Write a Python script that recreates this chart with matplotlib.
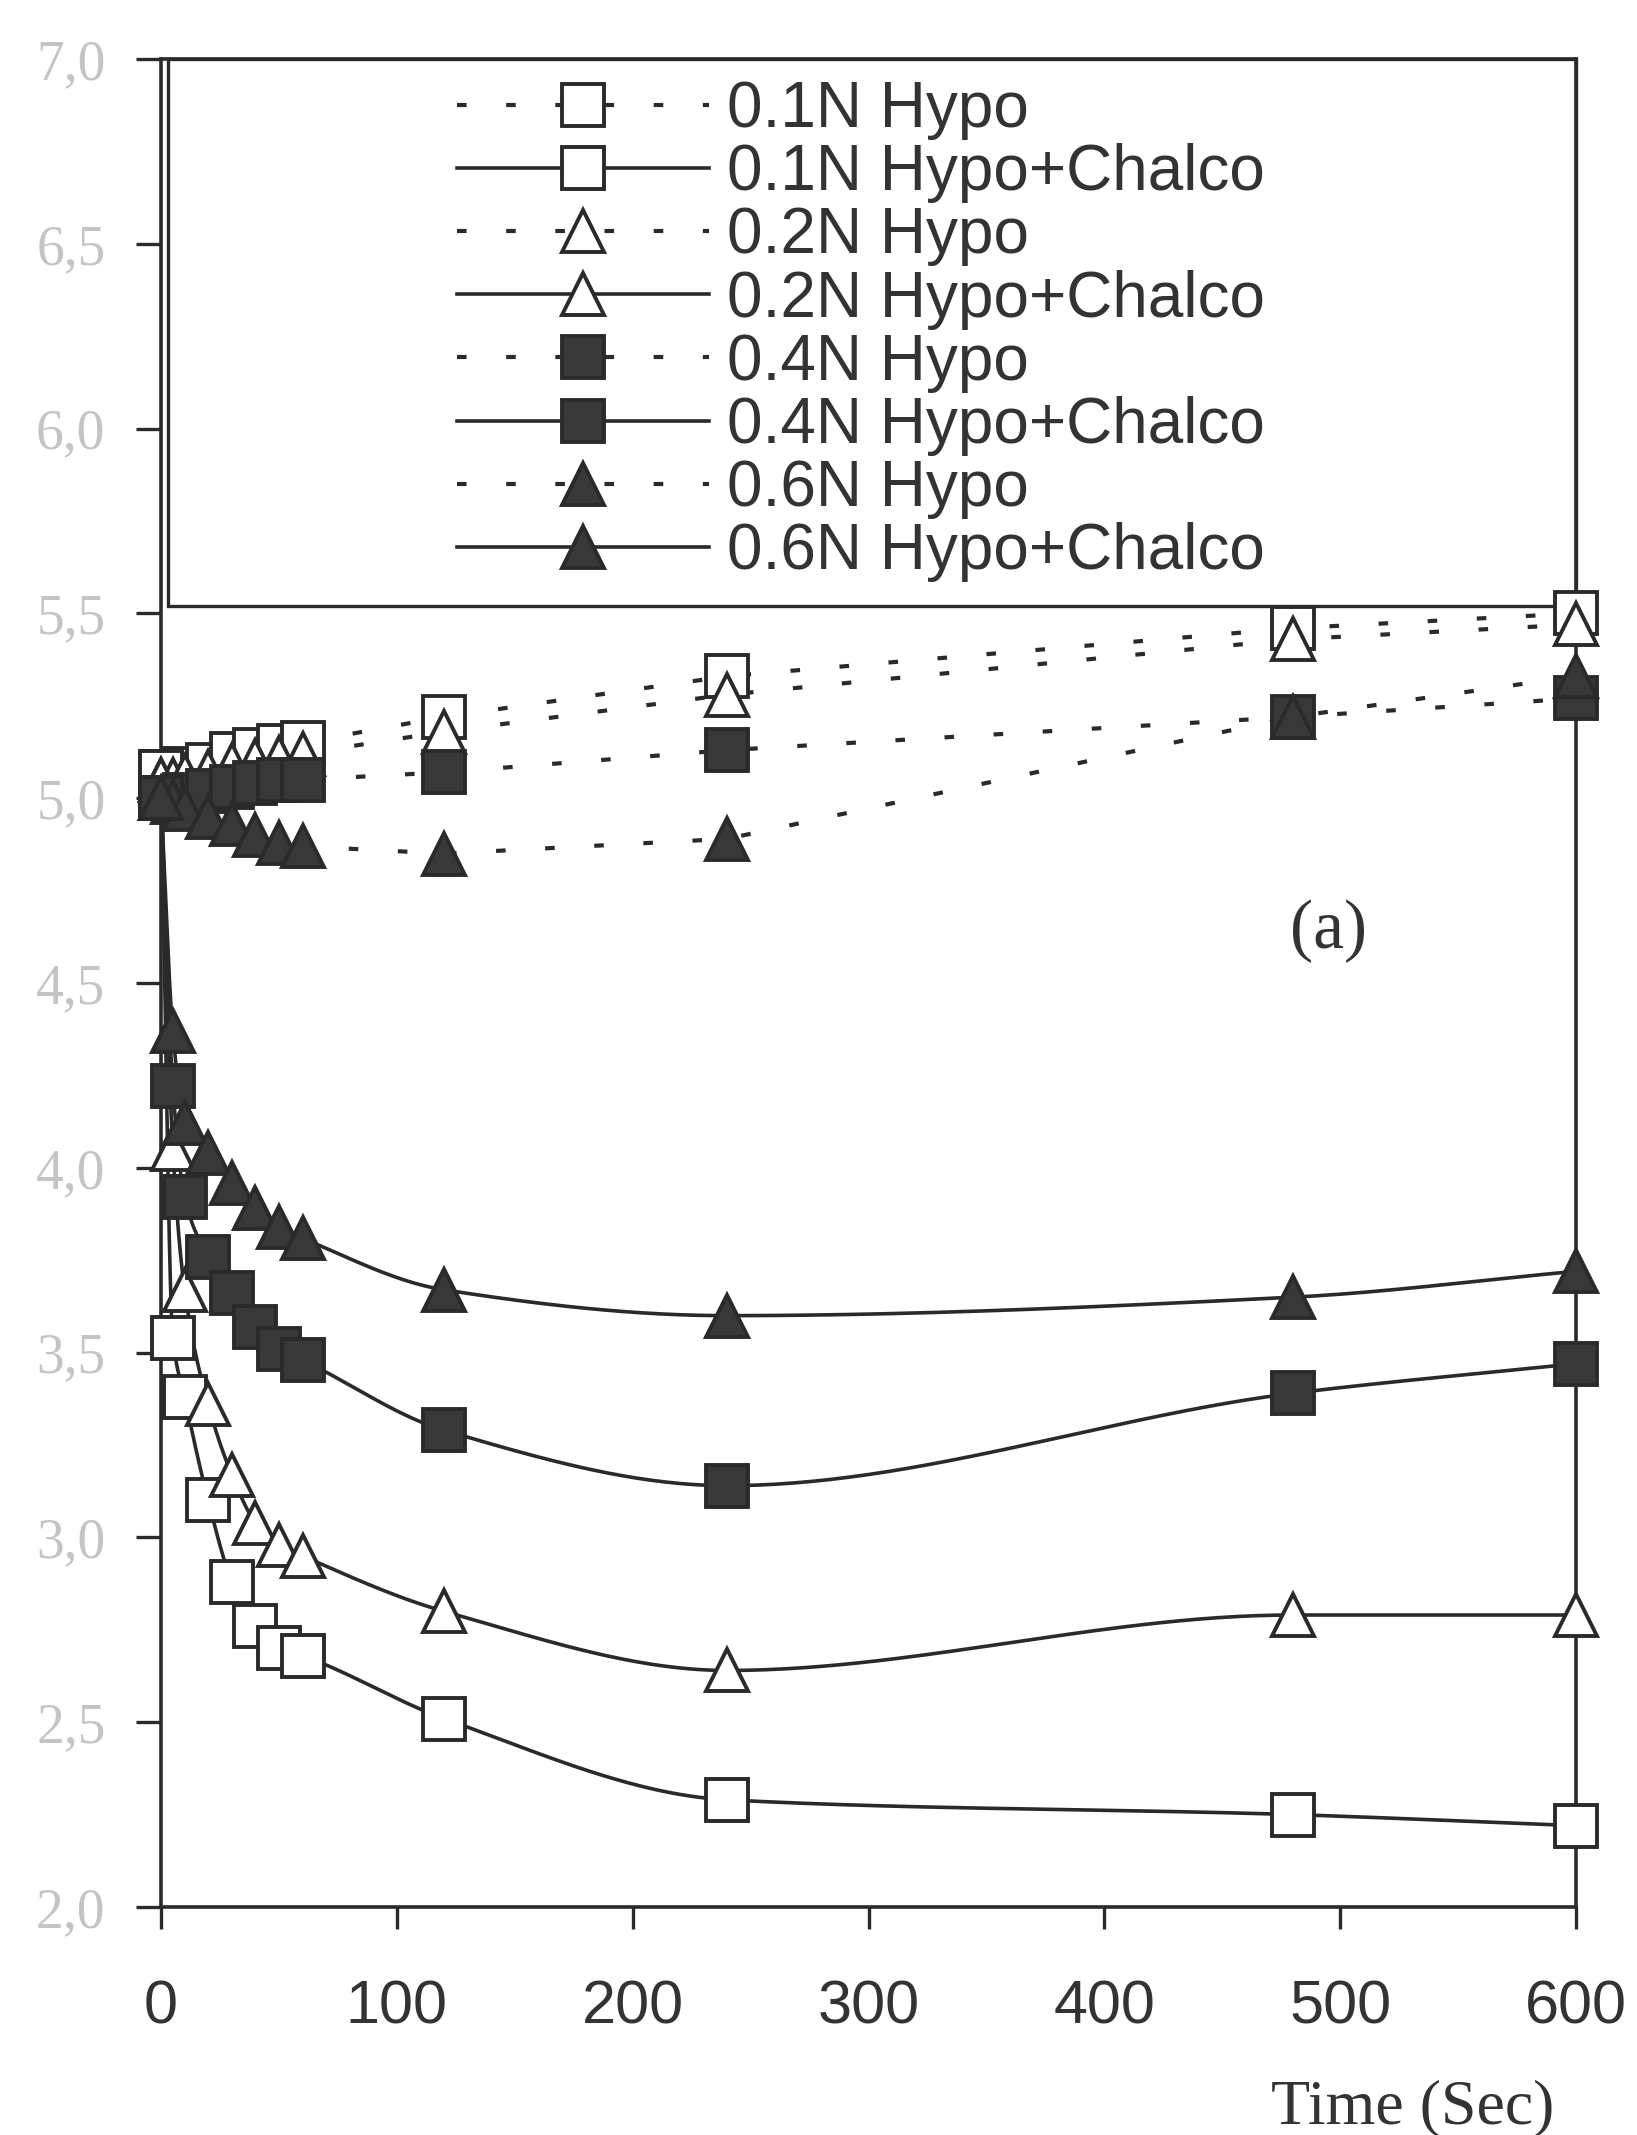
import numpy as np
import matplotlib
matplotlib.use("Agg")
import matplotlib.pyplot as plt
from matplotlib.patches import Rectangle

# ---------------- data ----------------
time_s = [0, 5, 10, 20, 30, 40, 50, 60, 120, 240, 480, 600]

hypo_01 = [5.07, 5.07, 5.08, 5.09, 5.12, 5.13, 5.14, 5.15, 5.22, 5.33, 5.46, 5.50]
chalco_01 = [5.07, 3.54, 3.38, 3.10, 2.88, 2.76, 2.70, 2.68, 2.51, 2.29, 2.25, 2.22]
hypo_02 = [5.05, 5.05, 5.06, 5.07, 5.09, 5.10, 5.11, 5.12, 5.18, 5.28, 5.43, 5.47]
chalco_02 = [5.05, 4.05, 3.67, 3.36, 3.17, 3.04, 2.98, 2.95, 2.80, 2.64, 2.79, 2.79]
hypo_04 = [5.00, 5.00, 5.01, 5.02, 5.03, 5.04, 5.05, 5.05, 5.07, 5.13, 5.22, 5.27]
chalco_04 = [5.00, 4.22, 3.92, 3.76, 3.66, 3.57, 3.51, 3.48, 3.29, 3.14, 3.39, 3.47]
hypo_06 = [5.00, 4.99, 4.97, 4.95, 4.93, 4.90, 4.88, 4.87, 4.85, 4.89, 5.22, 5.33]
chalco_06 = [5.00, 4.37, 4.12, 4.04, 3.96, 3.89, 3.84, 3.81, 3.67, 3.60, 3.65, 3.72]

series_labels = ["0.1N Hypo", "0.1N Hypo+Chalco", "0.2N Hypo", "0.2N Hypo+Chalco",
                 "0.4N Hypo", "0.4N Hypo+Chalco", "0.6N Hypo", "0.6N Hypo+Chalco"]
series_values = [hypo_01, chalco_01, hypo_02, chalco_02, hypo_04, chalco_04, hypo_06, chalco_06]

xticks = [0, 100, 200, 300, 400, 500, 600]
yticks = [2.0, 2.5, 3.0, 3.5, 4.0, 4.5, 5.0, 5.5, 6.0, 6.5, 7.0]
ytick_labels = ["2,0", "2,5", "3,0", "3,5", "4,0", "4,5", "5,0", "5,5", "6,0", "6,5", "7,0"]
xlabel_text = "Time (Sec)"
panel_text = "(a)"


# ------------- smoothing (monotone cubic Hermite through the points) -------------
def pchip_curve(x, y, n=60):
    x = np.asarray(x, float)
    y = np.asarray(y, float)
    h = np.diff(x)
    d = np.diff(y) / h
    m = np.zeros_like(y)
    for k in range(1, len(x) - 1):
        if d[k - 1] * d[k] <= 0:
            m[k] = 0.0
        else:
            w1 = 2 * h[k] + h[k - 1]
            w2 = h[k] + 2 * h[k - 1]
            m[k] = (w1 + w2) / (w1 / d[k - 1] + w2 / d[k])
    m[0] = d[0]
    m[-1] = d[-1]
    xs, ys = [], []
    for k in range(len(x) - 1):
        t = np.linspace(0, 1, n, endpoint=(k == len(x) - 2))
        h00 = 2 * t**3 - 3 * t**2 + 1
        h10 = t**3 - 2 * t**2 + t
        h01 = -2 * t**3 + 3 * t**2
        h11 = t**3 - t**2
        xs.append(x[k] + t * h[k])
        ys.append(h00 * y[k] + h10 * h[k] * m[k] + h01 * y[k + 1] + h11 * h[k] * m[k + 1])
    return np.concatenate(xs), np.concatenate(ys)


# ---------------- figure ----------------
W, H = 1637, 2135
fig = plt.figure(figsize=(W / 100, H / 100), dpi=100)
fig.patch.set_facecolor("white")
ax = fig.add_axes([161 / W, 1 - 1907 / H, 1415 / W, 1848 / H])
ax.set_xlim(0, 600)
ax.set_ylim(2, 7)

ink = "#2a2a2a"
fill = "#383838"
dash = (0, (2.3, 9.5))
msize = 30

styles = [
    dict(marker="s", mfc="white", ls=dash),
    dict(marker="s", mfc="white", ls="-"),
    dict(marker="^", mfc="white", ls=dash),
    dict(marker="^", mfc="white", ls="-"),
    dict(marker="s", mfc=fill, ls=dash),
    dict(marker="s", mfc=fill, ls="-"),
    dict(marker="^", mfc=fill, ls=dash),
    dict(marker="^", mfc=fill, ls="-"),
]

handles = []
for lab, vals, st in zip(series_labels, series_values, styles):
    smooth = st["ls"] == "-"
    lw = 2.6 if smooth else 3.0
    if smooth:
        cx, cy = pchip_curve(time_s, vals)
    else:
        cx, cy = np.asarray(time_s, float), np.asarray(vals, float)
    ax.plot(cx, cy, color=ink, lw=lw, ls=st["ls"], zorder=2, clip_on=False)
    ax.plot(time_s, vals, ls="none", marker=st["marker"], ms=msize,
            mfc=st["mfc"], mec=ink, mew=2.8, zorder=3, clip_on=False)
    h, = ax.plot([], [], color=ink, lw=lw, ls=st["ls"], marker=st["marker"],
                 ms=msize, mfc=st["mfc"], mec=ink, mew=2.8)
    handles.append(h)

# legend frame (drawn below the data)
ax.add_patch(Rectangle((0.005, 0.704), 0.995, 0.296, transform=ax.transAxes,
                       facecolor="white", edgecolor=ink, lw=2.4, zorder=1.5,
                       clip_on=False))

leg = ax.legend(handles, series_labels, loc="upper left",
                bbox_to_anchor=(457 / W, 1 - 80 / H), bbox_transform=fig.transFigure,
                frameon=False, handlelength=3.95, handletextpad=0.28,
                labelspacing=0.05, borderpad=0, borderaxespad=0, numpoints=1,
                prop={"family": ["Liberation Sans", "DejaVu Sans"], "size": 46})
for t in leg.get_texts():
    t.set_color("#333333")
leg.set_zorder(6)

# spines and ticks
for side in ["left", "right", "top", "bottom"]:
    ax.spines[side].set_linewidth(2.6)
    ax.spines[side].set_color(ink)

ax.set_xticks(xticks)
ax.set_xticklabels([str(v) for v in xticks])
ax.set_yticks(yticks)
ax.set_yticklabels(ytick_labels)
ax.tick_params(axis="x", direction="out", length=16, width=2.4, color=ink,
               pad=36, labelsize=44, labelcolor="#333333")
ax.tick_params(axis="y", direction="out", length=18, width=2.4, color=ink,
               pad=22, labelsize=40, labelcolor="#c4c4c4")
for lbl in ax.get_xticklabels():
    lbl.set_family(["Liberation Sans", "DejaVu Sans"])
for lbl in ax.get_yticklabels():
    lbl.set_family(["Liberation Serif", "DejaVu Serif"])

ax.text(495, 4.64, panel_text, fontsize=50, ha="center", va="center",
        family=["Liberation Serif", "DejaVu Serif"], color="#333333", zorder=5)

fig.text(1413 / W, 1 - 2108 / H, xlabel_text, fontsize=46, ha="center", va="center",
         family=["Liberation Serif", "DejaVu Serif"], color="#333333")

fig.savefig("out.png", dpi=100, facecolor="white")
